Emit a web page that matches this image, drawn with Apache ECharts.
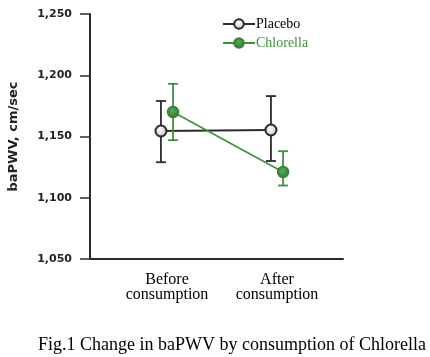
<!DOCTYPE html>
<html><head><meta charset="utf-8">
<script src="https://cdn.jsdelivr.net/npm/echarts@6/dist/echarts.min.js"></script>
<style>html,body{margin:0;padding:0;background:#fff}#c{width:430px;height:357px}</style>
</head><body><div id="c"></div>
<script>
var categories = ['Before\nconsumption', 'After\nconsumption'];
var yTicks = [1050, 1100, 1150, 1200, 1250];
var placeboMean = [1154.5, 1155.3];
var placeboLow = [1129, 1130];
var placeboHigh = [1179, 1183];
var chlorellaMean = [1170, 1121];
var chlorellaLow = [1147, 1110];
var chlorellaHigh = [1193, 1138];

var BLACK = '#2b2b2b', GREEN = '#3f8f3f';
function catPos(i){ return 7 + 10 * i; }
var OFF = 0.55;
function pts(mean, d){ return mean.map(function(v,i){ return [catPos(i)+d, v]; }); }
function bars(lo, hi, d){ return lo.map(function(v,i){ return [catPos(i)+d, v, hi[i]]; }); }

function errRender(color){
  return function(params, api){
    var x = api.value(0);
    var p1 = api.coord([x, api.value(1)]);
    var p2 = api.coord([x, api.value(2)]);
    var w = 5;
    var st = {stroke: color, lineWidth: 1.8};
    return {type:'group', children:[
      {type:'line', shape:{x1:p1[0],y1:p1[1],x2:p2[0],y2:p2[1]}, style:st},
      {type:'line', shape:{x1:p1[0]-w,y1:p1[1],x2:p1[0]+w,y2:p1[1]}, style:st},
      {type:'line', shape:{x1:p2[0]-w,y1:p2[1],x2:p2[0]+w,y2:p2[1]}, style:st}
    ]};
  };
}

var chart = echarts.init(document.getElementById('c'), null, {renderer:'canvas'});
chart.setOption({
  animation:false,
  backgroundColor:'#fff',
  grid:{left:90, right:87, top:14, bottom:98, containLabel:false, outerBoundsMode:'none'},
  legend:{
    orient:'vertical', left:217, top:12, itemWidth:32, itemHeight:12, itemGap:5,
    textStyle:{fontFamily:'Liberation Serif, Times New Roman, serif', fontSize:14, padding:[0,0,0,-4]},
    data:[{name:'Placebo', textStyle:{color:'#000'}},{name:'Chlorella', textStyle:{color:GREEN}}]
  },
  title:{
    text:'Fig.1 Change in baPWV by consumption of Chlorella',
    left:33, top:331,
    textStyle:{fontFamily:'Liberation Serif, Times New Roman, serif', fontSize:18, fontWeight:'normal', color:'#000'}
  },
  xAxis:{
    type:'value', min:0, max:23, interval:1,
    splitLine:{show:false}, axisTick:{show:false},
    axisLine:{lineStyle:{color:BLACK, width:2}},
    axisLabel:{
      margin:13, color:'#000', lineHeight:15,
      fontFamily:'Liberation Serif, Times New Roman, serif', fontSize:16,
      formatter:function(v){ for(var i=0;i<categories.length;i++){ if(Math.abs(v-catPos(i))<1e-6) return categories[i]; } return ''; }
    }
  },
  yAxis:{
    type:'value', min:yTicks[0], max:yTicks[yTicks.length-1], interval:50,
    name:'baPWV, cm/sec', nameLocation:'middle', nameRotate:90, nameGap:70,
    nameTextStyle:{fontFamily:'DejaVu Sans, sans-serif', fontWeight:'bold', fontSize:13, color:'#222'},
    splitLine:{show:false},
    axisLine:{show:true, lineStyle:{color:BLACK, width:2}},
    axisTick:{show:true, length:10, lineStyle:{color:BLACK, width:1.5}},
    axisLabel:{margin:18, color:'#222', fontFamily:'DejaVu Sans, sans-serif', fontWeight:'bold', fontSize:11,
      formatter:function(v){ return String(v).replace(/(\d)(\d{3})$/, '$1,$2'); }}
  },
  series:[
    {type:'custom', name:'PlaceboErr', renderItem:errRender(BLACK), data:bars(placeboLow, placeboHigh, -OFF), encode:{x:0,y:[1,2]}, z:2, silent:true},
    {type:'line', name:'Placebo', data:pts(placeboMean, -OFF), symbol:'circle', symbolSize:11,
      lineStyle:{color:BLACK, width:2},
      itemStyle:{color:new echarts.graphic.RadialGradient(0.45,0.4,0.6,[{offset:0,color:'#ffffff'},{offset:0.6,color:'#d8d8d8'},{offset:1,color:'#8a8a8a'}]), borderColor:BLACK, borderWidth:2},
      z:3},
    {type:'custom', name:'ChlorellaErr', renderItem:errRender(GREEN), data:bars(chlorellaLow, chlorellaHigh, OFF), encode:{x:0,y:[1,2]}, z:4, silent:true},
    {type:'line', name:'Chlorella', data:pts(chlorellaMean, OFF), symbol:'circle', symbolSize:11,
      lineStyle:{color:GREEN, width:1.6},
      itemStyle:{color:new echarts.graphic.RadialGradient(0.45,0.4,0.6,[{offset:0,color:'#5aa85a'},{offset:1,color:'#2f7a2f'}]), borderColor:'#3a803a', borderWidth:1.5},
      z:5}
  ]
});
</script></body></html>
